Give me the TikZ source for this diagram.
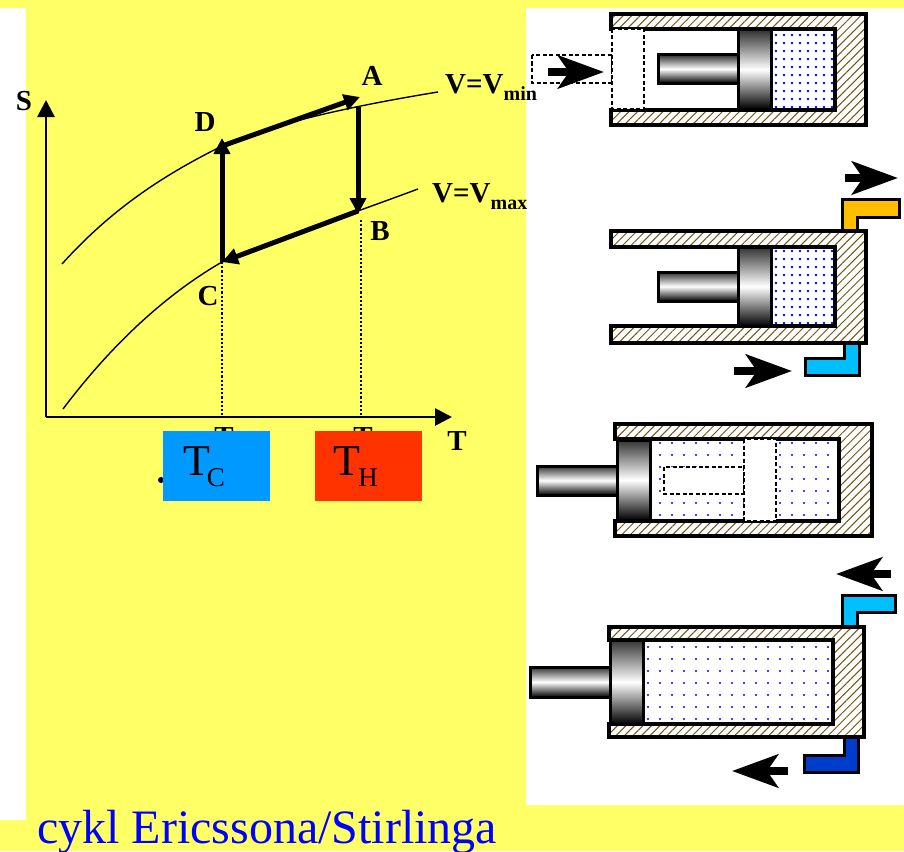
\documentclass[tikz,border=0pt]{standalone}
\usepackage{fontspec}
\setmainfont{Liberation Serif}
\usetikzlibrary{arrows.meta,patterns.meta}
\definecolor{SlideYellow}{RGB}{255,255,102}
\definecolor{ColdBox}{RGB}{0,153,255}
\definecolor{HotBox}{RGB}{255,51,0}
\definecolor{WallBrown}{RGB}{115,85,20}
\definecolor{PipeOrange}{RGB}{255,191,0}
\definecolor{PipeCyan}{RGB}{0,191,255}
\definecolor{PipeBlue}{RGB}{0,60,204}
\definecolor{TitleBlue}{RGB}{0,0,255}
\tikzset{
  wall/.style={draw=black,line width=3.4pt,miter limit=10,
    preaction={fill=white},pattern={Lines[angle=45,distance=6pt,line width=1pt]},
    pattern color=WallBrown},
  gas/.style={pattern={Dots[distance=8pt,radius=1.3pt]},pattern color=blue},
  thingas/.style={pattern={Dots[distance=12pt,radius=1.1pt]},pattern color=blue},
  piston/.style={draw=black,line width=3pt,top color=black!80,bottom color=black,middle color=white},
  ghost/.style={draw=black,fill=white,line width=2.4pt,dash pattern=on 4pt off 2.5pt},
  pipe/.style={draw=black,line width=3pt,miter limit=10},
  flowarrow/.style={line width=8pt,-{Stealth[length=46pt,width=33pt,inset=11pt]}},
  axisline/.style={line width=2.8pt,-{Triangle[length=17pt,width=17pt]}},
  cycleline/.style={line width=5pt,-{Triangle[length=16pt,width=16pt]}},
  curveline/.style={line width=1.4pt},
  dropline/.style={line width=2.2pt,dotted},
  graphlabel/.style={font=\fontsize{29}{29}\selectfont\bfseries},
  tempbox/.style={minimum width=107pt,minimum height=70pt,inner sep=0pt},
  tempmain/.style={font=\fontsize{44}{44}\selectfont},
  tempsub/.style={font=\fontsize{27}{27}\selectfont}
}
\newcommand{\subvol}[1]{\lower7pt\hbox{\fontsize{20}{20}\selectfont #1}}
\begin{document}
\begin{tikzpicture}[x=1pt,y=-1pt]
  \useasboundingbox (0,0) rectangle (904,851);
  \fill[SlideYellow] (0,0) rectangle (904,851);
  \fill[white] (0,8) rectangle (26,820);
  \fill[white] (526,8) rectangle (904,805);

  % graph
  \coordinate (ptA) at (360,97);
  \coordinate (ptD) at (222,146);
  \coordinate (ptDup) at (222,138);
  \coordinate (ptB) at (358,214);
  \coordinate (ptC) at (222,262);
  \coordinate (ptCend) at (222,262);
  \coordinate (ptAtop) at (358,107);
  \coordinate (ptBend) at (358,211);
  \coordinate (origin) at (46,417);
  \coordinate (axisS) at (46,100);
  \coordinate (axisT) at (452,417);
  \coordinate (footC) at (222,417);
  \coordinate (footH) at (361,417);
  \coordinate (topH) at (361,220);
  \coordinate (minL) at (62,264);
  \coordinate (minR) at (438,92);
  \coordinate (maxL) at (63,409);
  \coordinate (maxR) at (418,189);
  \draw[axisline] (origin) -- (axisS);
  \draw[axisline] (origin) -- (axisT);
  \draw[curveline] (minL) .. controls (115,205) and (170,172) .. (ptD)
    .. controls (270,125) and (340,108) .. (minR);
  \draw[curveline] (maxL) .. controls (115,340) and (170,292) .. (ptC)
    .. controls (280,238) and (340,218) .. (maxR);
  \draw[dropline] (ptC) -- (footC);
  \draw[dropline] (topH) -- (footH);
  \draw[cycleline] (ptC) -- (ptDup);
  \draw[cycleline] (ptD) -- (ptA);
  \draw[cycleline] (ptAtop) -- (ptB);
  \draw[cycleline] (ptBend) -- (ptCend);

  \node[graphlabel] (labS) at (24,101) {S};
  \node[graphlabel] (labA) at (372,76) {A};
  \node[graphlabel] (labD) at (205,122) {D};
  \node[graphlabel] (labB) at (380,231) {B};
  \node[graphlabel] (labC) at (208,296) {C};
  \node[graphlabel] (labT) at (457,441) {T};
  \node[graphlabel,anchor=west,inner sep=0pt] (labMin) at (445,88) {V=V\subvol{min}};
  \node[graphlabel,anchor=west,inner sep=0pt] (labMax) at (432,197) {V=V\subvol{max}};

  % hidden labels behind the boxes
  \node[graphlabel] (hidC) at (224,437) {T};
  \node[graphlabel] (hidH) at (363,437) {T};
  \node[circle,fill=black,minimum size=6pt,inner sep=0pt] (dotC) at (161,480) {};
  \node[tempbox,fill=ColdBox] (boxC) at (216.5,466) {};
  \node[tempbox,fill=HotBox] (boxH) at (368,466) {};
  \node[tempmain,anchor=base,inner sep=0pt] (tC) at (197,475) {T};
  \node[tempsub,anchor=base,inner sep=0pt] (tCs) at (216,486) {C};
  \node[tempmain,anchor=base,inner sep=0pt] (tH) at (347,475) {T};
  \node[tempsub,anchor=base,inner sep=0pt] (tHs) at (368,486) {H};

  % cylinder one
  \fill[gas] (771,31) rectangle (834,109);
  \draw[wall] (611,14) -- (866,14) -- (866,125) -- (611,125) -- (611,110)
    -- (835,110) -- (835,29) -- (611,29) -- cycle;
  \draw[piston] (658,55) rectangle (738,83);
  \draw[piston] (738,30) rectangle (771,109);
  \draw[ghost] (532,55) rectangle (612,83);
  \draw[ghost] (612,29) rectangle (644,109);
  \coordinate (oneTail) at (548,72);
  \coordinate (oneTip) at (604,72);
  \draw[flowarrow] (oneTail) -- (oneTip);

  % cylinder two
  \fill[gas] (771,248) rectangle (834,326);
  \draw[pipe,fill=PipeOrange] (842,232) -- (842,199) -- (899,199) -- (899,217) -- (857,217) -- (857,232);
  \draw[pipe,fill=PipeCyan] (844,343) -- (844,358) -- (805,358) -- (805,375) -- (859,375) -- (859,343);
  \draw[wall] (611,231) -- (866,231) -- (866,343) -- (611,343) -- (611,326)
    -- (835,326) -- (835,247) -- (611,247) -- cycle;
  \draw[piston] (658,272) rectangle (738,301);
  \draw[piston] (738,247) rectangle (771,326);
  \coordinate (twoTail) at (845,178);
  \coordinate (twoTip) at (898,178);
  \draw[flowarrow] (twoTail) -- (twoTip);
  \coordinate (twoTailB) at (734,371);
  \coordinate (twoTipB) at (792,371);
  \draw[flowarrow] (twoTailB) -- (twoTipB);

  % cylinder three
  \fill[thingas] (650,440) rectangle (838,520);
  \draw[wall] (615,424) -- (872,424) -- (872,536) -- (615,536) -- (615,521)
    -- (839,521) -- (839,439) -- (615,439) -- cycle;
  \draw[piston] (537,466) rectangle (617,495);
  \draw[piston] (617,440) rectangle (650,520);
  \draw[ghost] (664,467) rectangle (744,494);
  \draw[ghost] (744,439) rectangle (776,521);

  % cylinder four
  \fill[thingas] (643,641) rectangle (832,723);
  \draw[pipe,fill=PipeCyan] (842,627) -- (842,595) -- (895,595) -- (895,612) -- (857,612) -- (857,627);
  \draw[pipe,fill=PipeBlue] (844,737) -- (844,755) -- (804,755) -- (804,772) -- (858,772) -- (858,737);
  \draw[wall] (609,627) -- (864,627) -- (864,737) -- (609,737) -- (609,724)
    -- (833,724) -- (833,640) -- (609,640) -- cycle;
  \draw[piston] (530,667) rectangle (610,697);
  \draw[piston] (610,640) rectangle (643,724);
  \coordinate (fourTail) at (891,574);
  \coordinate (fourTip) at (836,574);
  \draw[flowarrow] (fourTail) -- (fourTip);
  \coordinate (fourTailB) at (788,771);
  \coordinate (fourTipB) at (732,771);
  \draw[flowarrow] (fourTailB) -- (fourTipB);

  \node[anchor=base west,inner sep=0pt,text=TitleBlue,font=\fontsize{48}{48}\selectfont] (title) at (37,843) {cykl Ericssona/Stirlinga};
\end{tikzpicture}
\end{document}
